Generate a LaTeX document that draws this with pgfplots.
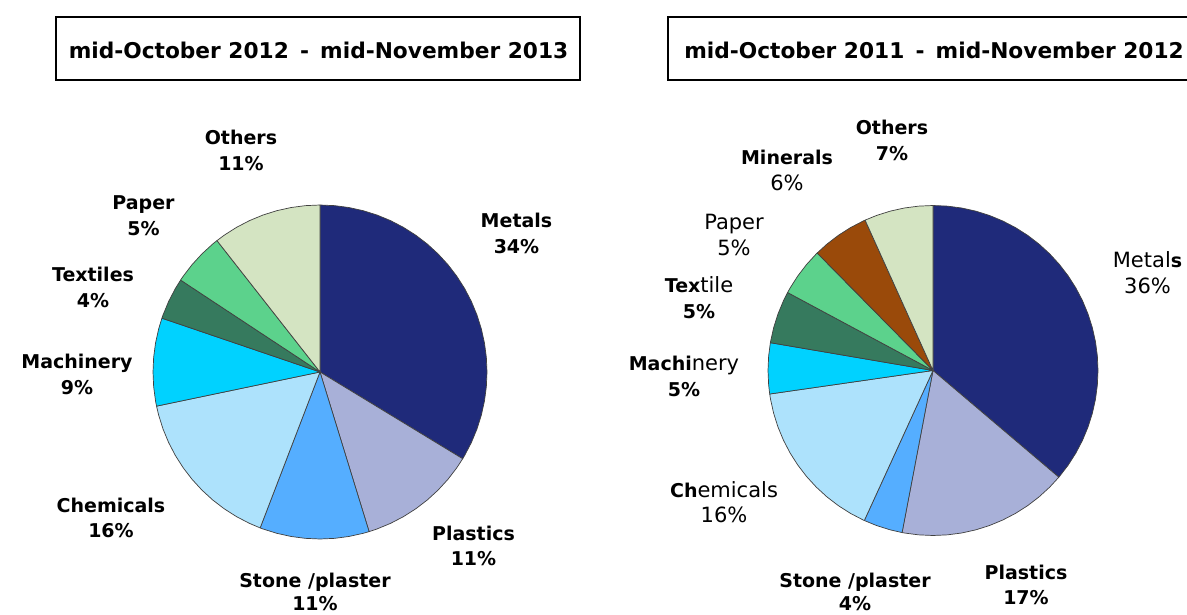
\documentclass[border=0pt]{standalone}
\usepackage{pgfplots}
\pgfplotsset{compat=1.18}
\usepackage{fontspec}
\setmainfont{DejaVu Sans}

\definecolor{metals}{RGB}{31,42,122}
\definecolor{plastics}{RGB}{168,176,216}
\definecolor{stone}{RGB}{85,174,255}
\definecolor{chem}{RGB}{173,226,252}
\definecolor{mach}{RGB}{0,210,255}
\definecolor{textile}{RGB}{54,122,94}
\definecolor{paper}{RGB}{92,210,140}
\definecolor{minerals}{RGB}{154,74,10}
\definecolor{others}{RGB}{212,228,194}

\pgfplotsset{
  pie/.style={hide axis, scale only axis, xmin=-1, xmax=1, ymin=-1, ymax=1,
    clip=false, anchor=center, data cs=polar},
  sl/.style={fill=#1, draw=black!75, line width=0.7pt, line join=round, mark=none},
}
\newcommand{\B}{\fontsize{19}{19}\bfseries}
\newcommand{\R}{\fontsize{21}{21}\mdseries}
% label: x, baseline of first line (image px from top), line 1, line 2
\newcommand{\lab}[5][25.5]{%
  \node[anchor=base, inner sep=0] at (#2,614-#3) {#4};
  \node[anchor=base, inner sep=0] at (#2,614-#3-#1) {#5};}

\begin{document}
\begin{tikzpicture}[x=1pt, y=1pt]
\useasboundingbox (0,0) rectangle (1187,614);
\clip (0,0) rectangle (1187,614);

% titles
\draw[line width=2.8pt] (56,534) rectangle (580,597);
\node[anchor=base, inner sep=0] at (318.5,555.5) {\fontsize{21.7}{22}\bfseries mid-October 2012 \,-\, mid-November 2013};
\draw[line width=2.8pt] (668,534) rectangle (1210,597);
\node[anchor=base, inner sep=0] at (934,555.5) {\fontsize{21.7}{22}\bfseries mid-October 2011 \,-\, mid-November 2012};

% mid-October 2012 - mid-November 2013
\begin{axis}[pie, at={(320pt,242pt)}, width=334pt, height=334pt]
\addplot[sl=metals] coordinates {(0,0) (90,1) (85,1) (80,1) (75,1) (70,1) (65,1) (60,1) (55,1) (50,1) (45,1) (40,1) (35,1) (30,1) (25,1) (20,1) (15,1) (10,1) (5,1) (0,1) (-5,1) (-10,1) (-15,1) (-20,1) (-25,1) (-30,1) (-31.3,1)} -- cycle;
\addplot[sl=plastics] coordinates {(0,0) (-31.3,1) (-35,1) (-40,1) (-45,1) (-50,1) (-55,1) (-60,1) (-65,1) (-70,1) (-72.9,1)} -- cycle;
\addplot[sl=stone] coordinates {(0,0) (-72.9,1) (-75,1) (-80,1) (-85,1) (-90,1) (-95,1) (-100,1) (-105,1) (-110,1) (-111,1)} -- cycle;
\addplot[sl=chem] coordinates {(0,0) (-111,1) (-115,1) (-120,1) (-125,1) (-130,1) (-135,1) (-140,1) (-145,1) (-150,1) (-155,1) (-160,1) (-165,1) (-168.2,1)} -- cycle;
\addplot[sl=mach] coordinates {(0,0) (-168.2,1) (-170,1) (-175,1) (-180,1) (-185,1) (-190,1) (-195,1) (-198.8,1)} -- cycle;
\addplot[sl=textile] coordinates {(0,0) (-198.8,1) (-200,1) (-205,1) (-210,1) (-213.4,1)} -- cycle;
\addplot[sl=paper] coordinates {(0,0) (-213.4,1) (-215,1) (-220,1) (-225,1) (-230,1) (-231.9,1)} -- cycle;
\addplot[sl=others] coordinates {(0,0) (-231.9,1) (-235,1) (-240,1) (-245,1) (-250,1) (-255,1) (-260,1) (-265,1) (-270,1)} -- cycle;
\end{axis}

% mid-October 2011 - mid-November 2012
\begin{axis}[pie, at={(933pt,243.5pt)}, width=330pt, height=330pt]
\addplot[sl=metals] coordinates {(0,0) (90,1) (85,1) (80,1) (75,1) (70,1) (65,1) (60,1) (55,1) (50,1) (45,1) (40,1) (35,1) (30,1) (25,1) (20,1) (15,1) (10,1) (5,1) (0,1) (-5,1) (-10,1) (-15,1) (-20,1) (-25,1) (-30,1) (-35,1) (-40,1) (-40.3,1)} -- cycle;
\addplot[sl=plastics] coordinates {(0,0) (-40.3,1) (-45,1) (-50,1) (-55,1) (-60,1) (-65,1) (-70,1) (-75,1) (-80,1) (-85,1) (-90,1) (-95,1) (-100,1) (-100.8,1)} -- cycle;
\addplot[sl=stone] coordinates {(0,0) (-100.8,1) (-105,1) (-110,1) (-114.6,1)} -- cycle;
\addplot[sl=chem] coordinates {(0,0) (-114.6,1) (-115,1) (-120,1) (-125,1) (-130,1) (-135,1) (-140,1) (-145,1) (-150,1) (-155,1) (-160,1) (-165,1) (-170,1) (-171.8,1)} -- cycle;
\addplot[sl=mach] coordinates {(0,0) (-171.8,1) (-175,1) (-180,1) (-185,1) (-189.7,1)} -- cycle;
\addplot[sl=textile] coordinates {(0,0) (-189.7,1) (-190,1) (-195,1) (-200,1) (-205,1) (-208.2,1)} -- cycle;
\addplot[sl=paper] coordinates {(0,0) (-208.2,1) (-210,1) (-215,1) (-220,1) (-225,1) (-225.4,1)} -- cycle;
\addplot[sl=minerals] coordinates {(0,0) (-225.4,1) (-230,1) (-235,1) (-240,1) (-245,1) (-245.7,1)} -- cycle;
\addplot[sl=others] coordinates {(0,0) (-245.7,1) (-250,1) (-255,1) (-260,1) (-265,1) (-270,1)} -- cycle;
\end{axis}

% labels, left pie
\lab{241}{145}{\B Others}{\B 11\%}
\lab{143.5}{210}{\B Paper}{\B 5\%}
\lab{516.5}{228}{\B Metals}{\B 34\%}
\lab{93}{282}{\B Textiles}{\B 4\%}
\lab{77}{369}{\B Machinery}{\B 9\%}
\lab{111}{512}{\B Chemicals}{\B 16\%}
\lab{473.5}{540}{\B Plastics}{\B 11\%}
\lab[23]{315}{587}{\B Stone /plaster}{\B 11\%}

% labels, right pie
\lab{892}{135}{\B Others}{\B 7\%}
\lab{787}{165}{\B Minerals}{\R 6\%}
\lab{734}{230}{\R Paper}{\R 5\%}
\lab{699}{293}{{\B Tex}{\R tile}}{\B 5\%}
\lab{684}{371}{{\B Machi}{\R nery}}{\B 5\%}
\lab{724}{497}{{\B Ch}{\R emicals}}{\R 16\%}
\lab{1147.5}{268}{{\R Metal}{\B s}}{\R 36\%}
\lab[23]{855}{587}{\B Stone /plaster}{\B 4\%}
\lab{1026}{579}{\B Plastics}{\B 17\%}
\end{tikzpicture}
\end{document}
